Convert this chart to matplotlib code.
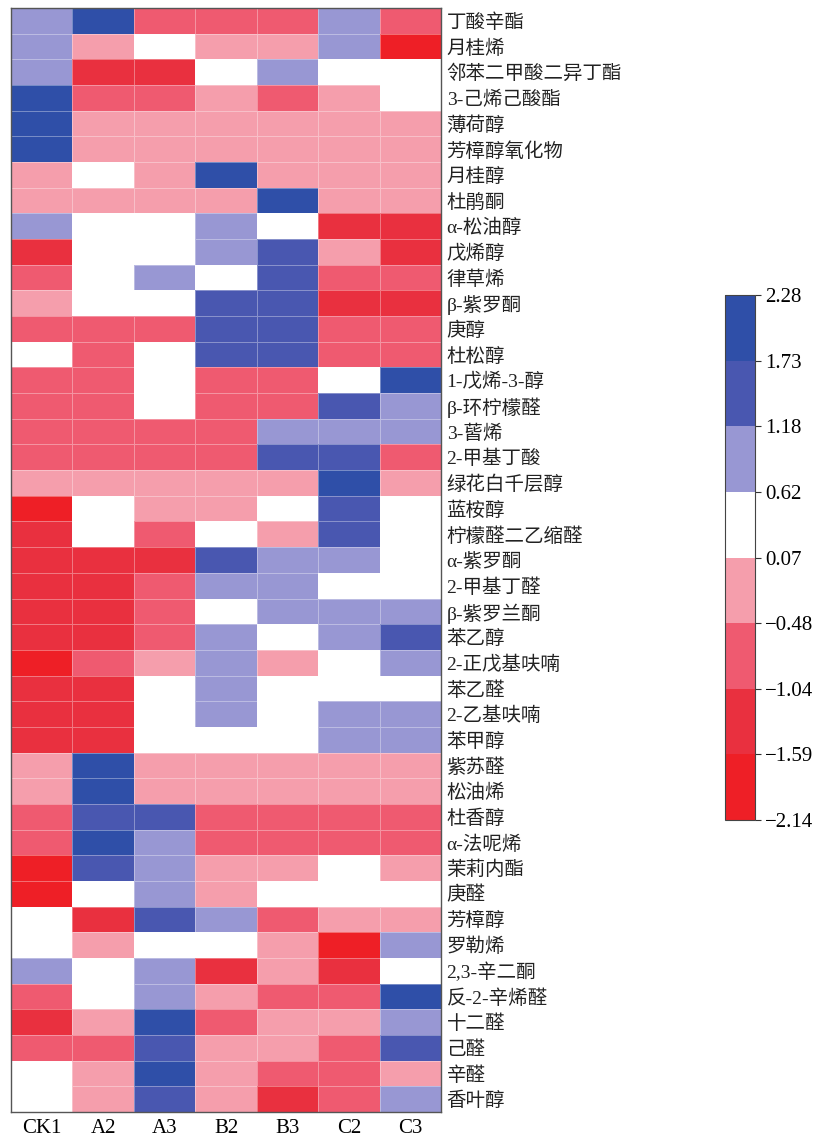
import matplotlib
matplotlib.use("Agg")
import matplotlib.pyplot as plt
import numpy as np
from matplotlib.colors import ListedColormap, BoundaryNorm

plt.rcParams['font.family'] = ['Liberation Serif', 'Noto Sans CJK SC']
plt.rcParams['axes.unicode_minus'] = True

# compounds (rows, top to bottom)
compounds = ["丁酸辛酯", "月桂烯", "邻苯二甲酸二异丁酯", "3-己烯己酸酯", "薄荷醇",
             "芳樟醇氧化物", "月桂醇", "杜鹃酮", "α-松油醇", "戊烯醇", "律草烯",
             "β-紫罗酮", "庚醇", "杜松醇", "1-戊烯-3-醇", "β-环柠檬醛", "3-蒈烯",
             "2-甲基丁酸", "绿花白千层醇", "蓝桉醇", "柠檬醛二乙缩醛", "α-紫罗酮",
             "2-甲基丁醛", "β-紫罗兰酮", "苯乙醇", "2-正戊基呋喃", "苯乙醛",
             "2-乙基呋喃", "苯甲醇", "紫苏醛", "松油烯", "杜香醇", "α-法呢烯",
             "茉莉内酯", "庚醛", "芳樟醇", "罗勒烯", "2,3-辛二酮", "反-2-辛烯醛",
             "十二醛", "己醛", "辛醛", "香叶醇"]

samples = ["CK1", "A2", "A3", "B2", "B3", "C2", "C3"]

# standardised values per sample
CK1 = [0.9, 0.9, 0.9, 2.0, 2.0, 2.0, -0.2, -0.2, 0.9, -1.3, -0.8, -0.2, -0.8, 0.3,
       -0.8, -0.8, -0.8, -0.8, -0.2, -1.9, -1.3, -1.3, -1.3, -1.3, -1.3, -1.9, -1.3,
       -1.3, -1.3, -0.2, -0.2, -0.8, -0.8, -1.9, -1.9, 0.3, 0.3, 0.9, -0.8, -1.3,
       -0.8, 0.3, 0.3]
A2 = [2.0, -0.2, -1.3, -0.8, -0.2, -0.2, 0.3, -0.2, 0.3, 0.3, 0.3, 0.3, -0.8, -0.8,
      -0.8, -0.8, -0.8, -0.8, -0.2, 0.3, 0.3, -1.3, -1.3, -1.3, -1.3, -0.8, -1.3,
      -1.3, -1.3, 2.0, 2.0, 1.5, 2.0, 1.5, 0.3, -1.3, -0.2, 0.3, 0.3, -0.2,
      -0.8, -0.2, -0.2]
A3 = [-0.8, 0.3, -1.3, -0.8, -0.2, -0.2, -0.2, -0.2, 0.3, 0.3, 0.9, 0.3, -0.8, 0.3,
      0.3, 0.3, -0.8, -0.8, -0.2, -0.2, -0.8, -1.3, -0.8, -0.8, -0.8, -0.2, 0.3,
      0.3, 0.3, -0.2, -0.2, 1.5, 0.9, 0.9, 0.9, 1.5, 0.3, 0.9, 0.9, 2.0,
      1.5, 2.0, 1.5]
B2 = [-0.8, -0.2, 0.3, -0.2, -0.2, -0.2, 2.0, -0.2, 0.9, 0.9, 0.3, 1.5, 1.5, 1.5,
      -0.8, -0.8, -0.8, -0.8, -0.2, -0.2, 0.3, 1.5, 0.9, 0.3, 0.9, 0.9, 0.9,
      0.9, 0.3, -0.2, -0.2, -0.8, -0.8, -0.2, -0.2, 0.9, 0.3, -1.3, -0.2, -0.8,
      -0.2, -0.2, -0.2]
B3 = [-0.8, -0.2, 0.9, -0.8, -0.2, -0.2, -0.2, 2.0, 0.3, 1.5, 1.5, 1.5, 1.5, 1.5,
      -0.8, -0.8, 0.9, 1.5, -0.2, 0.3, -0.2, 0.9, 0.9, 0.9, 0.3, -0.2, 0.3,
      0.3, 0.3, -0.2, -0.2, -0.8, -0.8, -0.2, 0.3, -0.8, -0.2, -0.2, -0.8, -0.2,
      -0.2, -0.8, -1.3]
C2 = [0.9, 0.9, 0.3, -0.2, -0.2, -0.2, -0.2, -0.2, -1.3, -0.2, -0.8, -1.3, -0.8, -0.8,
      0.3, 1.5, 0.9, 1.5, 2.0, 1.5, 1.5, 0.9, 0.3, 0.9, 0.9, 0.3, 0.3,
      0.9, 0.9, -0.2, -0.2, -0.8, -0.8, 0.3, 0.3, -0.2, -1.9, -1.3, -0.8, -0.2,
      -0.8, -0.8, -0.8]
C3 = [-0.8, -1.9, 0.3, 0.3, -0.2, -0.2, -0.2, -0.2, -1.3, -1.3, -0.8, -1.3, -0.8, -0.8,
      2.0, 0.9, 0.9, -0.8, -0.2, 0.3, 0.3, 0.3, 0.3, 0.9, 1.5, 0.9, 0.3,
      0.9, 0.9, -0.2, -0.2, -0.8, -0.8, -0.2, 0.3, -0.2, 0.9, 0.3, 2.0, 0.9,
      1.5, -0.2, 0.9]

bounds = [-2.14, -1.59, -1.04, -0.48, 0.07, 0.62, 1.18, 1.73, 2.28]
colors = ["#ee1f26", "#e9303f", "#ef5a70", "#f59eac", "#ffffff",
          "#9897d3", "#4957b0", "#2f4fa8"]

data = np.array([CK1, A2, A3, B2, B3, C2, C3]).T
cmap = ListedColormap(colors)
norm = BoundaryNorm(bounds, cmap.N)

fig = plt.figure(figsize=(8.23, 11.39), dpi=100)
ax = fig.add_axes([0.0134, 0.0237, 0.5225, 0.9693])
mesh = ax.pcolormesh(data, cmap=cmap, norm=norm, edgecolor=(1, 1, 1, 0.35), linewidth=0.4)
ax.set_xlim(0, len(samples))
ax.set_ylim(len(compounds), 0)
ax.set_xticks(np.arange(len(samples)) + 0.5)
ax.set_xticklabels(samples, fontsize=15)
ax.set_yticks(np.arange(len(compounds)) + 0.5)
ax.set_yticklabels(compounds, fontsize=14, color="#222222")
ax.yaxis.tick_right()
ax.tick_params(length=0, pad=4)
ax.tick_params(axis='x', pad=5)
for s in ax.spines.values():
    s.set_color("#555555")
    s.set_linewidth(1.0)

cax = fig.add_axes([0.881, 0.280, 0.0365, 0.461])
cb = fig.colorbar(mesh, cax=cax, ticks=bounds)
cb.ax.set_yticklabels(["\u22122.14", "\u22121.59", "\u22121.04", "\u22120.48", "0.07",
                       "0.62", "1.18", "1.73", "2.28"], fontsize=15)
cb.ax.tick_params(length=4, width=0.8, color="#333333", pad=3)
cb.outline.set_edgecolor("#444444")
cb.outline.set_linewidth(0.8)

fig.savefig("out.png", dpi=100)
